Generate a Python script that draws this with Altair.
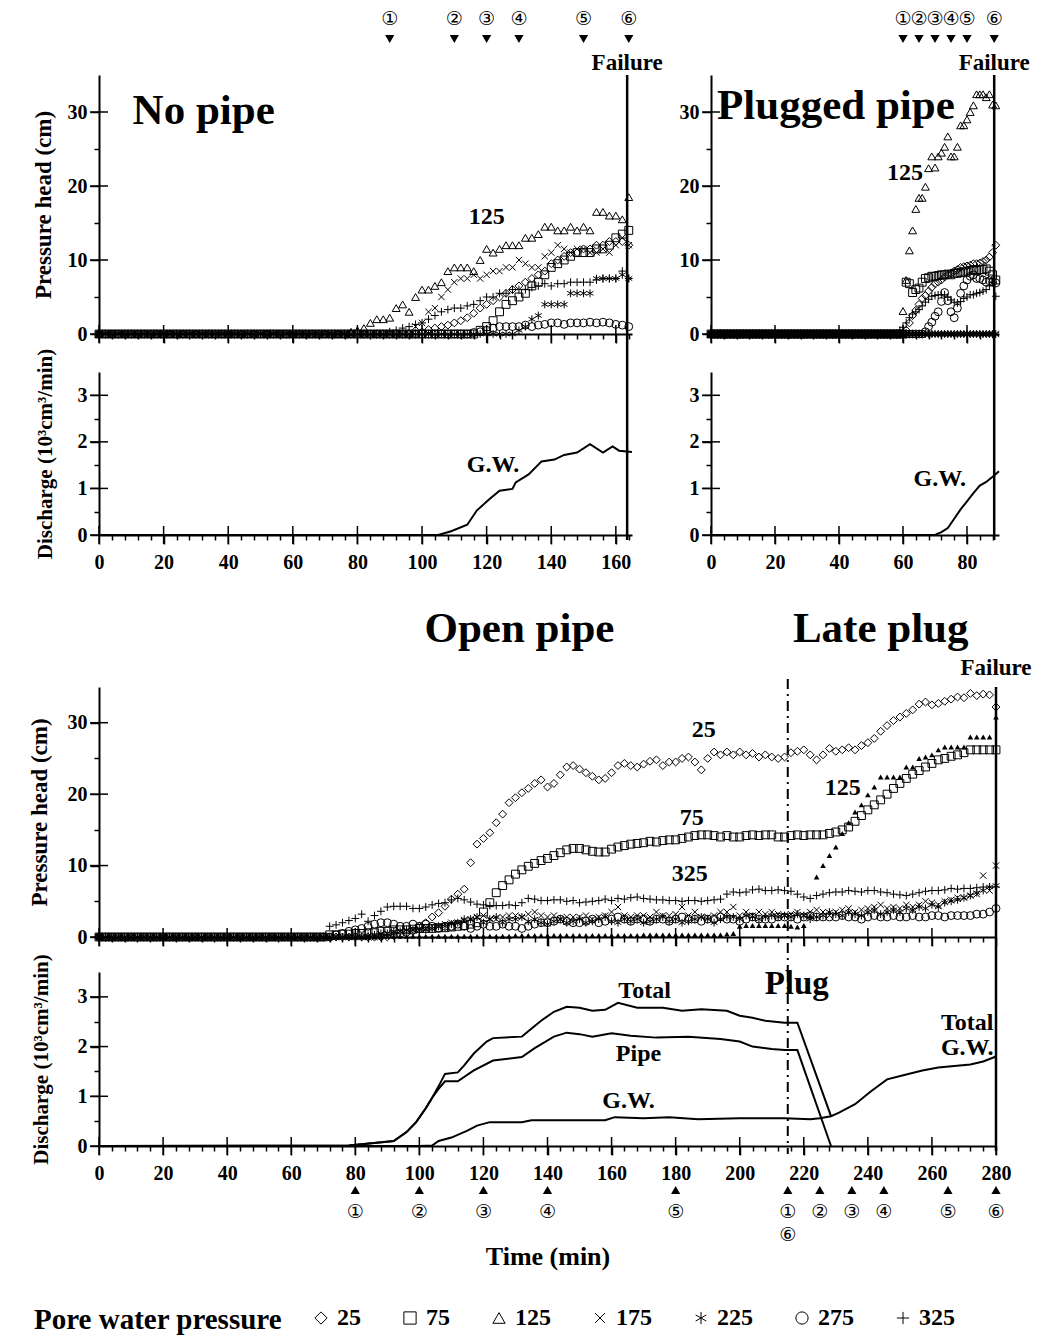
import altair as alt
import pandas as pd

FONT = "Liberation Serif"
SYMF = "DejaVu Sans"

DEPTHS = ["25", "75", "125", "175", "225", "275", "325"]
SHAPES = ["diamond", "square", "triangle-up",
          "M-0.8,-0.8L0.8,0.8M-0.8,0.8L0.8,-0.8",
          "M0,-1L0,1M-0.87,-0.5L0.87,0.5M-0.87,0.5L0.87,-0.5",
          "circle",
          "M-1,0L1,0M0,-1L0,1"]


def Z(n):
    return [0.0] * n


# ------------------------------------------------------------------ No pipe
NP_TIME = list(range(0, 165, 2))
NP_P25 = Z(50) + [0.3, 0.6, 0.8, 1.0, 1.2, 1.5, 1.8, 2.2, 2.8, 3.5, 4.0, 4.5, 5.0, 5.5, 6.0, 6.5, 7.0,
                  7.5, 8.0, 8.5, 9.5, 10.0, 10.5, 11.0, 11.0, 11.5, 11.5, 12.0, 12.0, 12.5, 12.5, 12.5, 12.0]
NP_P75 = Z(59) + [0.5, 1.0, 1.8, 3.0, 4.0, 4.5, 5.0, 5.5, 6.5, 7.0, 8.0, 9.0, 9.5, 10.0, 10.5, 11.0,
                  11.0, 11.0, 11.5, 11.5, 12.0, 13.0, 13.5, 14.0]
NP_P125 = Z(38) + [0, 0.3, 0.5, 0.8, 1.5, 2.0, 2.0, 2.2, 3.5, 4.0,
                   3.0, 5.0, 6.0, 6.0, 6.5, 7.0, 8.5, 9.0, 9.0, 9.0,
                   8.5, 10.0, 11.5, 11.0, 11.5, 12.0, 12.0, 12.0, 13.0, 13.0,
                   13.5, 14.5, 14.5, 14.0, 14.0, 14.5, 14.0, 14.5, 14.0, 16.5,
                   16.5, 16.0, 16.0, 15.5, 18.5]
NP_P175 = Z(49) + [1.0, 1.5, 3.0, 3.5, 5.0, 6.0, 7.0, 7.5, 7.5, 8.0,
                   7.5, 8.0, 8.5, 8.5, 9.0, 9.0, 10.0, 9.5, 9.0, 9.0,
                   10.5, 11.0, 12.0, 11.5, 11.0, 11.5, 11.5, 11.0, 11.0, 11.5,
                   11.0, 12.0, 13.0, 12.0]
NP_P225 = Z(65) + [0.5, 1.0, 2.0, 2.5, 4.0, 4.0, 4.0, 4.0, 5.5, 5.5, 5.5, 5.5, 7.5, 7.5, 7.5, 7.5, 8.0, 7.5]
NP_P275 = Z(58) + [0.2, 0.3, 0.5, 0.8, 1.0, 1.0, 1.0, 1.0, 1.2, 1.0,
                   1.2, 1.3, 1.5, 1.5, 1.3, 1.5, 1.5, 1.5, 1.6, 1.5,
                   1.6, 1.5, 1.3, 1.2, 1.0]
NP_P325 = Z(45) + [0.3, 0.5, 0.8, 1.0, 1.3, 1.5, 2.0, 2.5, 3.0, 3.3,
                   3.5, 3.5, 3.8, 4.0, 4.5, 5.0, 5.0, 5.5, 5.5, 6.0,
                   6.0, 6.0, 6.3, 6.5, 6.8, 6.5, 6.8, 6.8, 7.0, 7.0,
                   7.0, 7.0, 7.3, 7.5, 7.5, 7.5, 8.5, 7.5]
NP_Q_TIME = [0, 105, 109, 114, 117, 121, 124, 128, 129, 133, 137, 141, 144, 148, 152, 156, 159, 161, 165]
NP_Q_GW = [0, 0, 0.08, 0.22, 0.53, 0.78, 0.95, 0.99, 1.13, 1.3, 1.58, 1.62, 1.72, 1.77, 1.95, 1.77, 1.9, 1.81, 1.78]
NP_EVENTS = [90, 110, 120, 130, 150, 164]
NP_FAILURE = 163.5

# ------------------------------------------------------------------ Plugged pipe
PP_TIME = list(range(0, 90))
PP_P25 = Z(59) + [0, 0, 0.5, 1.5, 2.5, 3.2, 4.0, 4.8, 5.2, 5.8,
                  6.3, 6.8, 7.0, 7.3, 7.7, 8.0, 8.2, 8.5, 8.7, 9.0,
                  9.1, 9.2, 9.3, 9.5, 9.5, 9.6, 9.8, 10.0, 10.4, 11.0, 12.0]
PP_P75 = Z(59) + [0, 0, 7.0, 6.8, 5.6, 6.0, 6.2, 7.0, 7.5, 7.6,
                  7.8, 7.8, 7.9, 8.0, 8.0, 8.1, 8.0, 8.2, 8.2, 8.3,
                  8.4, 8.5, 8.6, 8.7, 8.6, 8.7, 8.7, 8.8, 8.5, 8.0, 7.3]
PP_P125 = Z(59) + [0, 3.1, 7.3, 11.3, 14.0, 16.9, 18.4, 18.4, 19.9, 22.4,
                   24.0, 22.5, 24.0, 24.5, 25.3, 26.7, 24.0, 24.0, 25.3, 28.2,
                   28.2, 29.0, 30.0, 30.9, 32.4, 32.4, 32.4, 32.0, 32.4, 31.0, 30.9]
PP_P175 = Z(90)
PP_P225 = Z(90)
PP_P275 = Z(67) + [0.3, 1.0, 1.6, 2.4, 3.0, 4.4, 5.6, 4.5, 3.0, 2.2,
                   3.5, 5.5, 6.5, 7.3, 7.8, 8.0, 7.5, 7.5, 7.3, 7.0, 7.2, 7.0, 6.9]
PP_P325 = Z(59) + [0.5, 0.9, 1.5, 2.2, 2.7, 3.0, 3.3, 3.8, 4.3, 4.7,
                   5.1, 5.2, 5.3, 5.3, 5.3, 5.0, 4.6, 4.3, 4.2, 4.4,
                   4.8, 5.0, 5.3, 5.3, 5.5, 5.6, 5.8, 6.0, 6.5, 7.0, 5.1]
PP_Q_TIME = [0, 70, 72, 74, 76, 78, 80, 82, 84, 86, 88, 90]
PP_Q_GW = [0, 0, 0.06, 0.15, 0.35, 0.55, 0.72, 0.9, 1.06, 1.14, 1.25, 1.37]
PP_EVENTS = [60, 65, 70, 75, 80, 88.5]
PP_FAILURE = 88.5

# ------------------------------------------------------------------ Open pipe / Late plug
OP_TIME = list(range(0, 281, 2))
OP_P25 = Z(35) + [
    0, 0, 0, 0, 0, 0, 0, 0, 0, 0,
    0, 0.2, 0.3, 0.5, 0.8, 1.5, 2.0, 2.8, 3.4, 4.3,
    5.3, 6.0, 6.7, 10.4, 13.0, 13.8, 14.6, 16.0, 17.2, 18.8,
    19.5, 20.2, 20.8, 21.5, 22.0, 21.0, 21.5, 22.7, 23.8, 24.0,
    23.5, 23.0, 22.5, 22.0, 22.2, 23.0, 24.0, 24.3, 24.0, 23.8,
    24.2, 24.6, 24.8, 24.0, 24.5, 24.5, 25.0, 25.2, 24.5, 23.4,
    25.0, 25.9, 25.5, 25.9, 25.5, 25.9, 25.5, 25.7, 25.2, 25.5,
    25.2, 25.0, 25.2, 25.8, 26.0, 26.2, 25.5, 24.8, 25.5, 26.4,
    26.0, 26.2, 26.5, 26.2, 26.8, 27.2, 27.8, 28.8, 29.6, 30.3,
    30.8, 31.3, 31.8, 32.6, 32.9, 32.5, 32.7, 33.0, 33.3, 33.6,
    33.5, 34.1, 33.8, 34.0, 33.9, 32.2]
OP_P75 = Z(35) + [
    0, 0.3, 0.3, 0.4, 0.4, 0.5, 0.5, 0.6, 0.6, 0.8,
    0.8, 1.0, 1.0, 1.0, 1.1, 1.2, 1.2, 1.2, 1.3, 1.3,
    1.4, 1.5, 1.6, 1.8, 2.0, 3.5, 4.8, 6.2, 7.2, 8.0,
    8.8, 9.4, 9.9, 10.3, 10.7, 11.0, 11.4, 11.8, 12.2, 12.4,
    12.4, 12.2, 12.0, 11.9, 11.9, 12.3, 12.6, 12.8, 13.0, 13.1,
    13.2, 13.4, 13.3, 13.5, 13.6, 13.6, 13.8, 14.0, 14.2, 14.3,
    14.3, 14.2, 14.0, 14.2, 14.0, 14.0, 14.2, 14.3, 14.2, 14.3,
    14.3, 14.0, 14.0, 14.2, 14.3, 14.2, 14.3, 14.3, 14.3, 14.5,
    14.7, 15.0, 15.4, 16.2, 17.0, 17.8, 18.5, 19.2, 20.0, 20.8,
    21.5, 22.2, 22.8, 23.3, 23.8, 24.3, 24.8, 25.0, 25.3, 25.5,
    25.8, 26.2, 26.2, 26.2, 26.2, 26.2]
OP_P125 = Z(35) + [
    0, 0, 0, 0, 0, 0, 0, 0, 0, 0,
    0.1, 0.1, 0.1, 0.1, 0.1, 0.1, 0.1, 0.1, 0.1, 0.1,
    0.1, 0.1, 0.1, 0.1, 0.1, 0.1, 0.1, 0.1, 0.1, 0.1,
    0.2, 0.2, 0.2, 0.2, 0.2, 0.2, 0.2, 0.2, 0.2, 0.2,
    0.2, 0.2, 0.2, 0.2, 0.2, 0.2, 0.2, 0.2, 0.2, 0.2,
    0.3, 0.3, 0.3, 0.3, 0.3, 0.3, 0.3, 0.3, 0.3, 0.3,
    0.3, 0.3, 0.3, 0.4, 0.5, 1.5, 1.6, 1.6, 1.6, 1.6,
    1.6, 1.6, 1.6, 1.5, 1.4, 1.6, 3.0, 8.4, 10.0, 11.4,
    12.6, 14.5, 16.0, 17.5, 18.5, 19.9, 21.0, 22.4, 22.4, 22.4,
    22.4, 23.8, 23.8, 25.0, 25.2, 25.5, 26.2, 26.6, 26.6, 26.6,
    26.6, 28.0, 28.0, 28.0, 28.0, 30.8]
OP_P175 = Z(35) + [
    0, 0, 0, 0, 0, 0, 0, 0, 0, 0.3,
    0.5, 0.5, 0.8, 0.8, 1.0, 1.0, 1.2, 1.5, 1.5, 1.8,
    2.0, 2.0, 2.2, 2.5, 2.8, 3.0, 2.5, 2.5, 2.8, 3.0,
    3.0, 2.8, 3.2, 3.5, 3.0, 2.8, 3.0, 2.5, 2.8, 2.8,
    2.8, 3.0, 2.5, 2.8, 3.0, 3.5, 4.2, 3.0, 2.8, 3.0,
    3.0, 2.8, 3.5, 3.0, 3.0, 3.2, 4.2, 3.0, 3.5, 2.8,
    2.8, 3.0, 3.5, 3.5, 4.2, 3.0, 3.5, 3.0, 3.5, 3.2,
    3.5, 3.2, 3.0, 3.2, 3.5, 3.0, 3.5, 3.8, 3.5, 3.0,
    3.5, 3.8, 4.0, 3.5, 3.8, 4.0, 4.2, 4.5, 4.0, 4.2,
    4.0, 4.5, 4.2, 4.5, 5.0, 4.8, 4.5, 5.0, 5.2, 5.5,
    5.5, 5.8, 6.0, 8.6, 6.5, 10.0]
OP_P225 = Z(35) + [
    0, 0, 0, 0, 0, 0, 0, 0.2, 0.3, 0.5,
    0.5, 0.8, 0.8, 1.0, 1.0, 1.2, 1.0, 1.2, 1.5, 1.5,
    1.8, 2.0, 2.5, 2.5, 2.8, 2.0, 2.5, 2.8, 2.0, 2.5,
    2.5, 2.8, 2.2, 2.5, 2.0, 1.8, 2.2, 2.5, 2.0, 2.2,
    2.5, 2.0, 2.2, 2.5, 2.8, 2.2, 2.0, 2.5, 2.2, 2.5,
    2.0, 2.2, 2.5, 2.8, 2.2, 2.5, 2.0, 2.2, 2.5, 2.8,
    2.5, 2.0, 2.5, 2.8, 2.8, 2.5, 3.0, 2.8, 2.5, 2.8,
    3.0, 2.8, 3.0, 2.8, 3.2, 3.0, 2.5, 2.8, 3.0, 3.5,
    3.2, 3.0, 3.5, 3.2, 3.0, 3.5, 3.8, 3.2, 3.5, 3.8,
    3.5, 4.0, 3.8, 4.2, 4.0, 4.5, 4.2, 4.8, 5.0, 5.2,
    5.5, 5.8, 6.2, 6.5, 7.0, 7.2]
OP_P275 = Z(35) + [
    0, 0, 0.3, 0.5, 0.8, 1.0, 1.2, 1.5, 1.8, 2.0,
    2.0, 1.8, 1.5, 1.5, 1.8, 1.5, 1.8, 1.5, 1.2, 1.5,
    1.5, 1.8, 1.5, 1.2, 1.5, 1.8, 1.5, 1.5, 1.8, 1.5,
    1.5, 1.2, 1.5, 1.8, 2.0, 2.0, 2.2, 2.5, 2.2, 2.0,
    2.0, 2.2, 2.5, 2.0, 2.2, 2.5, 2.8, 2.5, 2.2, 2.5,
    2.5, 2.2, 2.5, 2.5, 2.2, 2.5, 2.8, 2.5, 2.5, 2.2,
    2.5, 2.5, 2.8, 2.5, 2.5, 2.2, 2.5, 2.8, 2.5, 2.5,
    2.5, 2.8, 2.8, 2.8, 2.5, 2.8, 3.0, 2.8, 2.8, 2.8,
    2.8, 3.0, 2.8, 2.8, 2.5, 2.8, 3.0, 2.8, 2.8, 3.0,
    2.8, 2.8, 3.0, 2.8, 2.8, 3.0, 3.0, 2.8, 3.0, 3.0,
    3.0, 3.0, 3.2, 3.2, 3.5, 4.0]
OP_P325 = Z(35) + [
    0, 1.5, 1.7, 2.0, 2.3, 2.6, 3.2, 2.2, 3.0, 3.6,
    4.2, 4.3, 4.3, 4.3, 4.0, 4.0, 4.2, 4.5, 4.7, 4.8,
    5.2, 5.4, 5.2, 4.9, 4.6, 4.5, 4.4, 4.4, 4.4, 4.5,
    4.4, 4.8, 5.4, 5.3, 5.1, 5.1, 5.2, 5.2, 5.0, 5.1,
    4.8, 4.9, 5.0, 5.1, 5.3, 5.1, 5.4, 5.3, 5.5, 5.6,
    5.4, 5.3, 5.2, 5.2, 5.1, 5.1, 5.0, 5.1, 5.1, 5.0,
    5.1, 5.2, 5.3, 6.0, 6.3, 6.2, 6.3, 6.6, 6.7, 6.5,
    6.5, 6.6, 6.5, 6.4, 6.0, 5.6, 5.4, 5.8, 6.0, 6.2,
    6.3, 6.3, 6.5, 6.4, 6.3, 6.5, 6.5, 6.3, 6.2, 6.0,
    5.9, 5.8, 6.0, 6.2, 6.4, 6.5, 6.5, 6.6, 6.8, 6.7,
    6.8, 6.8, 6.9, 7.0, 7.0, 7.0]
OP_Q_TOTAL_T = [0, 78, 89, 92, 96, 99, 102, 104, 106, 108, 112, 114, 117, 121, 123, 132, 134, 138, 142, 146,
                150, 154, 158, 162, 168, 176, 182, 188, 196, 200, 204, 208, 214, 218, 228.5]
OP_Q_TOTAL = [0, 0.01, 0.08, 0.1, 0.28, 0.48, 0.76, 0.97, 1.2, 1.45, 1.48, 1.62, 1.86, 2.1, 2.17, 2.2, 2.31, 2.52,
              2.7, 2.8, 2.78, 2.72, 2.74, 2.88, 2.78, 2.78, 2.72, 2.75, 2.72, 2.62, 2.58, 2.52, 2.48, 2.48, 0.6]
OP_Q_PIPE_T = [0, 78, 89, 92, 96, 99, 102, 104, 106, 108, 112, 117, 123, 132, 136, 142, 146, 150, 154, 160,
               166, 174, 184, 194, 200, 204, 210, 214, 218, 228.5]
OP_Q_PIPE = [0, 0.01, 0.08, 0.1, 0.28, 0.48, 0.76, 0.97, 1.15, 1.3, 1.3, 1.52, 1.72, 1.79, 1.97, 2.2, 2.28, 2.25,
             2.2, 2.27, 2.22, 2.18, 2.2, 2.15, 2.1, 2.0, 1.95, 1.93, 1.93, 0]
OP_Q_GW_T = [0, 100, 104, 106, 110, 115, 118, 122, 132, 135, 144, 158, 161, 170, 178, 187, 200, 214, 222, 225,
             228.5, 231, 236, 241, 246, 252, 257, 262, 267, 272, 276, 280]
OP_Q_GW = [0, 0, 0.01, 0.1, 0.17, 0.31, 0.41, 0.48, 0.48, 0.52, 0.52, 0.52, 0.58, 0.56, 0.58, 0.54, 0.56, 0.56,
           0.54, 0.56, 0.6, 0.67, 0.84, 1.1, 1.34, 1.44, 1.52, 1.58, 1.61, 1.64, 1.7, 1.8]
OP_EVENTS = [80, 100, 120, 140, 180, 215, 225, 235, 245, 265, 280]
OP_EVENT_LABELS = ["①", "②", "③", "④", "⑤", "①", "②", "③", "④", "⑤", "⑥"]
OP_EVENTS2 = [215]
OP_EVENT2_LABELS = ["⑥"]
OP_PLUG = 215
OP_FAILURE = 280

TOP_LABELS = ["①", "②", "③", "④", "⑤", "⑥"]

# major tick values (drawn across the axis line)
P_MAJOR = [0, 10, 20, 30]
Q_MAJOR = [0, 1, 2, 3]

# ------------------------------------------------------------------ helpers
SHAPE_SCALE = alt.Scale(domain=DEPTHS, range=SHAPES)
LEGEND = alt.Legend(title="Pore water pressure", orient="none", legendX=-65, legendY=1231,
                    direction="horizontal", titleOrient="left", titleAnchor="start", titleLimit=400,
                    titleFont=FONT, titleFontSize=29, titleFontWeight="bold", titleColor="black",
                    titlePadding=26, labelFont=FONT, labelFontSize=24, labelFontWeight="bold",
                    labelColor="black", labelOffset=4, symbolSize=150, symbolStrokeWidth=1,
                    symbolStrokeColor="black", columnPadding=37)


def long_df(times, series):
    rows = []
    for d, vals in series.items():
        assert len(vals) == len(times), (d, len(vals), len(times))
        for t, v in zip(times, vals):
            rows.append({"t": t, "v": v, "depth": d})
    return pd.DataFrame(rows)


def x_enc(xmax, labels, title=None, title_pad=0):
    vals = list(range(0, int(xmax) + 1, 4))
    ax = alt.Axis(values=vals, labels=labels, title=title, titlePadding=title_pad,
                  titleFontSize=26, labelExpr="datum.value % 20 === 0 ? datum.label : ''",
                  tickSize={"condition": {"test": "datum.value % 20 === 0", "value": 9}, "value": 5},
                  labelPadding=8, labelFlush=False, labelOverlap=False)
    return alt.X("t:Q", scale=alt.Scale(domain=[0, xmax], nice=False, zero=True), axis=ax)


def y_press(title, pad):
    ax = alt.Axis(values=[0, 5, 10, 15, 20, 25, 30], title=title, titlePadding=pad,
                  labelExpr="datum.value % 10 === 0 ? datum.label : ''",
                  tickSize={"condition": {"test": "datum.value % 10 === 0", "value": 9}, "value": 5},
                  labelPadding=3, titleFontSize=23)
    return alt.Y("v:Q", scale=alt.Scale(domain=[0, 35], nice=False), axis=ax)


def y_disch(title, pad):
    ax = alt.Axis(values=[0, 0.5, 1, 1.5, 2, 2.5, 3], title=title, titlePadding=pad,
                  labelExpr="datum.value % 1 === 0 ? format(datum.value, 'd') : ''",
                  tickSize={"condition": {"test": "datum.value % 1 === 0", "value": 9}, "value": 5},
                  labelPadding=3, titleFontSize=21)
    return alt.Y("v:Q", scale=alt.Scale(domain=[0, 3.5], nice=False), axis=ax)


def cross_ticks(X, Y, xmax, ymajor, H):
    xt = pd.DataFrame({"t": list(range(0, int(xmax) + 1, 20))})
    yt = pd.DataFrame({"v": ymajor})
    a = alt.Chart(xt).mark_tick(orient="vertical", size=18, thickness=1.5, color="black", opacity=1) \
        .encode(x=X, y=alt.value(H))
    b = alt.Chart(yt).mark_tick(orient="horizontal", size=18, thickness=1.5, color="black", opacity=1) \
        .encode(y=Y, x=alt.value(0))
    return [a, b]


def text_layer(rows, X, Y, size, align="center", baseline="middle"):
    df = pd.DataFrame(rows, columns=["lab", "t", "v"])
    return alt.Chart(df).mark_text(font=FONT, fontWeight="bold", fontSize=size, align=align,
                                   baseline=baseline, color="black").encode(x=X, y=Y, text="lab:N")


def pressure_panel(df, xmax, W, H, gap, failure, y_title, big, labels, title_pad=12,
                   events=None, ev_labels=None, extra=None, plug=None, fail_text_y=-12):
    X = x_enc(xmax, False)
    Y = y_press(y_title, title_pad)
    layers = [alt.Chart(df).mark_point(filled=False, size=62, strokeWidth=1, color="black", opacity=1)
              .encode(x=X, y=Y, shape=alt.Shape("depth:N", scale=SHAPE_SCALE, legend=LEGEND))]
    if extra is not None:
        layers.append(extra(X, Y))
    layers += cross_ticks(X, Y, xmax, P_MAJOR, H)
    layers.append(alt.Chart(pd.DataFrame({"t": [failure]})).mark_rule(color="black", strokeWidth=2.5)
                  .encode(x=X, y=alt.value(0), y2=alt.value(H + gap)))
    if plug is not None:
        layers.append(alt.Chart(pd.DataFrame({"t": [plug]}))
                      .mark_rule(color="black", strokeWidth=2, strokeDash=[10, 5, 2, 5])
                      .encode(x=X, y=alt.value(-8), y2=alt.value(H + gap)))
    if events is not None:
        ev = pd.DataFrame({"t": events, "lab": ev_labels})
        layers.append(alt.Chart(ev).mark_point(shape="triangle-down", filled=True, size=85,
                                               color="black", opacity=1)
                      .encode(x=X, y=alt.value(-36)))
        layers.append(alt.Chart(ev).mark_text(font=SYMF, fontSize=19, color="black")
                      .encode(x=X, y=alt.value(-56), text="lab:N"))
    layers.append(alt.Chart(pd.DataFrame({"t": [failure], "lab": ["Failure"]}))
                  .mark_text(font=FONT, fontWeight="bold", fontSize=23, color="black")
                  .encode(x=X, y=alt.value(fail_text_y), text="lab:N"))
    for rows, size, align, baseline, ypix in big:
        if ypix is None:
            layers.append(text_layer(rows, X, Y, size, align, baseline))
        else:
            df_b = pd.DataFrame(rows, columns=["lab", "t"])
            layers.append(alt.Chart(df_b).mark_text(font=FONT, fontWeight="bold", fontSize=size,
                                                    align=align, baseline=baseline, color="black")
                          .encode(x=X, y=alt.value(ypix), text="lab:N"))
    if labels:
        layers.append(text_layer(labels, X, Y, 24))
    return alt.layer(*layers).properties(width=W, height=H)


def discharge_panel(lines, xmax, W, H, failure, y_title, labels, x_title=None, title_pad=0, y_pad=22,
                    plug=None, events=None, ev_labels=None, events2=None, ev2_labels=None, extra_text=None):
    X = x_enc(xmax, True, x_title, title_pad)
    Y = y_disch(y_title, y_pad)
    rows = []
    for name, ts, qs in lines:
        assert len(ts) == len(qs)
        for t, q in zip(ts, qs):
            rows.append({"t": t, "v": q, "s": name})
    layers = [alt.Chart(pd.DataFrame(rows)).mark_line(color="black", strokeWidth=2)
              .encode(x=X, y=Y, detail="s:N")]
    layers += cross_ticks(X, Y, xmax, Q_MAJOR, H)
    layers.append(alt.Chart(pd.DataFrame({"t": [failure]})).mark_rule(color="black", strokeWidth=2.5)
                  .encode(x=X, y=alt.value(0), y2=alt.value(H + 5)))
    if plug is not None:
        layers.append(alt.Chart(pd.DataFrame({"t": [plug]}))
                      .mark_rule(color="black", strokeWidth=2, strokeDash=[10, 5, 2, 5])
                      .encode(x=X, y=alt.value(0), y2=alt.value(H + 8)))
    if events is not None:
        ev = pd.DataFrame({"t": events, "lab": ev_labels})
        layers.append(alt.Chart(ev).mark_point(shape="triangle-up", filled=True, size=85,
                                               color="black", opacity=1)
                      .encode(x=X, y=alt.value(H + 44)))
        layers.append(alt.Chart(ev).mark_text(font=SYMF, fontSize=19, color="black")
                      .encode(x=X, y=alt.value(H + 66), text="lab:N"))
        ev2 = pd.DataFrame({"t": events2, "lab": ev2_labels})
        layers.append(alt.Chart(ev2).mark_text(font=SYMF, fontSize=19, color="black")
                      .encode(x=X, y=alt.value(H + 89), text="lab:N"))
    layers.append(text_layer(labels, X, Y, 24))
    if extra_text is not None:
        rows_e, size = extra_text
        layers.append(text_layer(rows_e, X, Y, size))
    return alt.layer(*layers).properties(width=W, height=H)


# ------------------------------------------------------------------ panels
np_df = long_df(NP_TIME, dict(zip(DEPTHS, [NP_P25, NP_P75, NP_P125, NP_P175, NP_P225, NP_P275, NP_P325])))
pp_df = long_df(PP_TIME, dict(zip(DEPTHS, [PP_P25, PP_P75, PP_P125, PP_P175, PP_P225, PP_P275, PP_P325])))
op_df = long_df(OP_TIME, {"25": OP_P25, "75": OP_P75, "175": OP_P175, "225": OP_P225,
                          "275": OP_P275, "325": OP_P325})
op_125 = long_df(OP_TIME, {"125": OP_P125})

TITLE_P = "Pressure head (cm)"
TITLE_Q = "Discharge (10³cm³/min)"

np_p = pressure_panel(np_df, 165, 533, 259, 38, NP_FAILURE, TITLE_P,
                      big=[([("No pipe", 10.4, 28.4)], 43, "left", "alphabetic", None)],
                      labels=[("125", 120, 15.8)],
                      events=NP_EVENTS, ev_labels=TOP_LABELS)
np_q = discharge_panel([("G.W.", NP_Q_TIME, NP_Q_GW)], 165, 533, 163, NP_FAILURE, TITLE_Q,
                       labels=[("G.W.", 122, 1.5)])

pp_p = pressure_panel(pp_df, 90, 288, 259, 38, PP_FAILURE, None,
                      big=[([("Plugged pipe", 1.9, 29.0)], 43, "left", "alphabetic", None)],
                      labels=[("125", 60.6, 21.8)],
                      events=PP_EVENTS, ev_labels=TOP_LABELS)
pp_q = discharge_panel([("G.W.", PP_Q_TIME, PP_Q_GW)], 90, 288, 163, PP_FAILURE, None,
                       labels=[("G.W.", 71.5, 1.2)])


def filled_125(X, Y):
    return (alt.Chart(op_125).mark_point(shape="triangle-up", filled=True, size=32,
                                         color="black", opacity=1).encode(x=X, y=Y))


op_p = pressure_panel(op_df, 280, 897, 250, 35, OP_FAILURE, TITLE_P,
                      big=[([("Open pipe", 101.6), ("Late plug", 216.6)], 43, "left", "alphabetic", -45)],
                      labels=[("25", 188.75, 29.0), ("75", 185, 16.6), ("125", 232.2, 20.9), ("325", 184.4, 8.8)],
                      title_pad=16, extra=filled_125, plug=OP_PLUG, fail_text_y=-19)
op_q = discharge_panel([("Total", OP_Q_TOTAL_T, OP_Q_TOTAL), ("Pipe", OP_Q_PIPE_T, OP_Q_PIPE),
                        ("G.W.", OP_Q_GW_T, OP_Q_GW)], 280, 897, 174, OP_FAILURE, TITLE_Q,
                       labels=[("Total", 170.3, 3.12), ("Pipe", 168.4, 1.85), ("G.W.", 165.3, 0.9),
                               ("Total", 271, 2.47), ("G.W.", 271, 1.97)],
                       x_title="Time (min)", title_pad=60, y_pad=26, plug=OP_PLUG,
                       events=OP_EVENTS, ev_labels=OP_EVENT_LABELS,
                       events2=OP_EVENTS2, ev2_labels=OP_EVENT2_LABELS,
                       extra_text=([("Plug", 217.8, 3.25)], 33))

left = alt.vconcat(np_p, np_q, spacing=38, bounds="flush")
right = alt.vconcat(pp_p, pp_q, spacing=38, bounds="flush")
top = alt.hconcat(left, right, spacing=16)
bottom = alt.vconcat(op_p, op_q, spacing=35, bounds="flush")

chart = (alt.vconcat(top, bottom, spacing=36)
         .properties(padding={"left": 20, "top": 2, "right": 0, "bottom": 0})
         .configure_view(stroke=None)
         .configure_axis(domainColor="black", domainWidth=2, tickColor="black", tickWidth=1.5,
                         labelFont=FONT, labelFontSize=20, labelFontWeight="bold", labelColor="black",
                         titleFont=FONT, titleFontWeight="bold", titleColor="black", grid=False))

chart.save("out.html", embed_options={"renderer": "svg", "actions": False})
